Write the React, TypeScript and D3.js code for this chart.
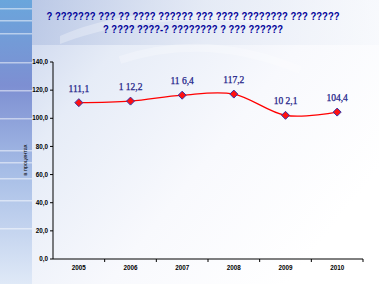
import React from "react";
import * as d3 from "d3";

const years = ["2005", "2006", "2007", "2008", "2009", "2010"];
const values = [111.1, 112.2, 116.4, 117.2, 102.1, 104.4];
const valueLabels = ["111,1", "1 12,2", "11 6,4", "117,2", "10 2,1", "104,4"];
const yTicks = [0, 20, 40, 60, 80, 100, 120, 140];
const titleLines = [
  "? ??????? ??? ?? ???? ?????? ??? ???? ????????  ??? ?????",
  "? ???? ????-? ???????? ? ??? ??????",
];
const yAxisLabel = "в процентах";

const W = 379;
const H = 284;

export default function App() {
  const x0 = 53;
  const x1 = 363;
  const yTop = 62;
  const yBot = 259;
  const band = d3.scaleBand<string>().domain(years).range([x0, x1]);
  const x = (d: string) => (band(d) as number) + band.bandwidth() / 2;
  const y = d3.scaleLinear().domain([0, 140]).range([yBot, yTop]);
  const line = d3
    .line<number>()
    .x((_, i) => x(years[i]))
    .y((d) => y(d))
    .curve(d3.curveCatmullRom.alpha(0));
  const stripes = [8, 20, 33, 62, 90, 118, 150, 162, 178, 200, 228];
  const boundaries = years.map((_, i) => x0 + band.step() * (i + 1));
  return (
    <svg width={W} height={H} style={{ position: "absolute", left: 0, top: 0 }}>
      <defs>
        <linearGradient id="bg" x1="0" y1="0" x2="1" y2="0.6">
          <stop offset="0" stopColor="#c3cfea" />
          <stop offset="0.3" stopColor="#e6ecf7" />
          <stop offset="0.65" stopColor="#f8f9fd" />
          <stop offset="1" stopColor="#ffffff" />
        </linearGradient>
        <linearGradient id="strip" x1="0" y1="0" x2="0" y2="1">
          <stop offset="0" stopColor="#6aa6dc" />
          <stop offset="0.3" stopColor="#7d8fd2" />
          <stop offset="0.6" stopColor="#a6bde6" />
          <stop offset="1" stopColor="#dfe9f7" />
        </linearGradient>
        <linearGradient id="top" x1="0" y1="0" x2="1" y2="0">
          <stop offset="0" stopColor="#b4c3e3" />
          <stop offset="0.5" stopColor="#e2e8f4" />
          <stop offset="1" stopColor="#f6f8fc" />
        </linearGradient>
      </defs>
      <rect x={0} y={0} width={W} height={H} fill="url(#bg)" />
      <rect x={32} y={0} width={W - 32} height={45} fill="url(#top)" opacity={0.7} />
      <path d="M60,36 C120,10 200,5 280,20 L280,26 C200,15 120,20 60,44 Z" fill="#ffffff" opacity={0.3} />
      <path d="M120,60 C180,40 240,45 300,70" stroke="#ffffff" strokeWidth={8} fill="none" opacity={0.25} />
      <rect x={0} y={0} width={32} height={H} fill="url(#strip)" />
      {stripes.map((s) => (
        <rect key={s} x={0} y={s} width={32} height={1.5} fill="#ffffff" opacity={0.5} />
      ))}
      <g fontFamily="Liberation Sans, Arial, sans-serif" fontWeight="bold" fill="#000099" fontSize={10.5}>
        <text x={193} y={20} textAnchor="middle" textLength={293} lengthAdjust="spacingAndGlyphs">
          {titleLines[0]}
        </text>
        <text x={193} y={33} textAnchor="middle" textLength={180} lengthAdjust="spacingAndGlyphs">
          {titleLines[1]}
        </text>
      </g>
      <line x1={x0} x2={x0} y1={yTop} y2={yBot} stroke="#000" strokeWidth={1} />
      <line x1={x0} x2={x1} y1={yBot} y2={yBot} stroke="#000" strokeWidth={1} />
      {yTicks.map((t) => (
        <g key={t}>
          <line x1={x0 - 3} x2={x0} y1={y(t)} y2={y(t)} stroke="#000" />
          <text
            x={x0 - 5}
            y={y(t) + 2.2}
            textAnchor="end"
            fontSize={6.3}
            fontWeight="bold"
            fontFamily="Liberation Sans, Arial, sans-serif"
            fill="#000"
          >
            {t.toFixed(1).replace(".", ",")}
          </text>
        </g>
      ))}
      {boundaries.map((b, i) => (
        <line key={i} x1={b} x2={b} y1={yBot} y2={yBot + 3} stroke="#000" />
      ))}
      {years.map((yr) => (
        <text
          key={yr}
          x={x(yr)}
          y={yBot + 11}
          textAnchor="middle"
          fontSize={6.3}
          fontWeight="bold"
          fontFamily="Liberation Sans, Arial, sans-serif"
          fill="#000"
        >
          {yr}
        </text>
      ))}
      <text
        transform={`translate(27,160) rotate(-90)`}
        textAnchor="middle"
        fontSize={5.5}
        fontFamily="Liberation Sans, Arial, sans-serif"
        fill="#000"
      >
        {yAxisLabel}
      </text>
      <path d={line(values) || ""} fill="none" stroke="#ff0000" strokeWidth={1.3} />
      {values.map((v, i) => {
        const cx = x(years[i]);
        const cy = y(v);
        return (
          <g key={i}>
            <path
              d={`M${cx},${cy - 4} L${cx + 4},${cy} L${cx},${cy + 4} L${cx - 4},${cy} Z`}
              fill="#ff1010"
              stroke="#3333aa"
              strokeWidth={1}
            />
            <text
              x={cx}
              y={cy - 11}
              textAnchor="middle"
              fontSize={9.5}
              fontFamily="Liberation Serif, Times New Roman, serif"
              fill="#1c1c88"
              stroke="#1c1c88"
              strokeWidth={0.25}
            >
              {valueLabels[i]}
            </text>
          </g>
        );
      })}
    </svg>
  );
}
